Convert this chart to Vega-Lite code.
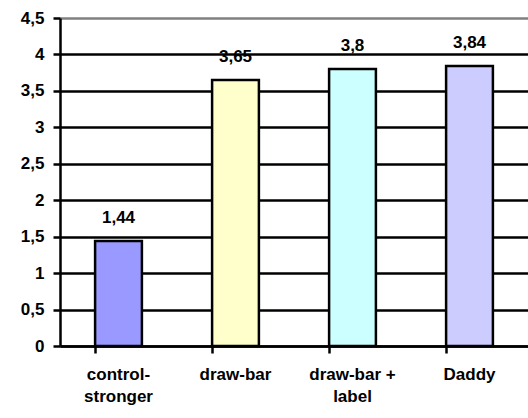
{
  "$schema": "https://vega.github.io/schema/vega-lite/v6.json",
  "width": 468,
  "height": 328,
  "autosize": {"type": "none"},
  "padding": {"left": 60, "top": 18, "right": 0, "bottom": 72},
  "background": "white",
  "config": {
    "locale": {"number": {"decimal": ",", "thousands": ".", "grouping": [3], "currency": ["", " €"]}},
    "view": {"stroke": null},
    "font": "Liberation Sans"
  },
  "data": {"values": [
    {"group": "control-stronger", "value": 1.44},
    {"group": "draw-bar", "value": 3.65},
    {"group": "draw-bar + label", "value": 3.8},
    {"group": "Daddy", "value": 3.84}
  ]},
  "encoding": {
    "x": {
      "field": "group", "type": "nominal", "sort": null,
      "scale": {"paddingInner": 0.6, "paddingOuter": 0.3},
      "axis": {
        "title": null, "labelAngle": 0, "domainColor": "black", "domainWidth": 2.5, "domainOpacity": 1,
        "tickColor": "black", "tickWidth": 2.5, "tickSize": 7, "tickOpacity": 1, "bandPosition": 0,
        "labelFont": "Liberation Sans", "labelFontSize": 17, "labelFontWeight": "bold",
        "labelColor": "black", "labelPadding": 13, "labelLineHeight": 22,
        "labelExpr": "datum.value == 'control-stronger' ? ['control-', 'stronger'] : datum.value == 'draw-bar + label' ? ['draw-bar +', 'label'] : datum.value"
      }
    },
    "y": {
      "field": "value", "type": "quantitative",
      "scale": {"domain": [0, 4.5], "nice": false},
      "axis": {
        "title": null, "values": [0, 0.5, 1, 1.5, 2, 2.5, 3, 3.5, 4, 4.5],
        "domainColor": "black", "domainWidth": 2.5, "domainOpacity": 1, "tickColor": "black", "tickWidth": 2.5,
        "tickOpacity": 1, "tickSize": 7, "labelPadding": 9, "grid": true,
        "gridColor": {"condition": {"test": "datum.value == 4.5", "value": "#808080"}, "value": "black"},
        "gridWidth": 2.5, "gridOpacity": 1,
        "labelFont": "Liberation Sans", "labelFontSize": 17, "labelFontWeight": "bold",
        "labelColor": "black", "format": ".2~f"
      }
    }
  },
  "layer": [
    {
      "mark": {"type": "bar", "stroke": "black", "strokeWidth": 2.5, "strokeOpacity": 1},
      "encoding": {
        "color": {
          "field": "group", "type": "nominal", "sort": null, "legend": null,
          "scale": {"domain": ["control-stronger", "draw-bar", "draw-bar + label", "Daddy"],
                    "range": ["#9999FF", "#FFFFCC", "#CCFFFF", "#CCCCFF"]}
        }
      }
    },
    {
      "mark": {"type": "text", "baseline": "alphabetic", "dy": -18, "font": "Liberation Sans", "fontSize": 17, "fontWeight": "bold", "color": "black"},
      "encoding": {"text": {"field": "value", "type": "quantitative", "format": ".2~f"}}
    }
  ]
}
